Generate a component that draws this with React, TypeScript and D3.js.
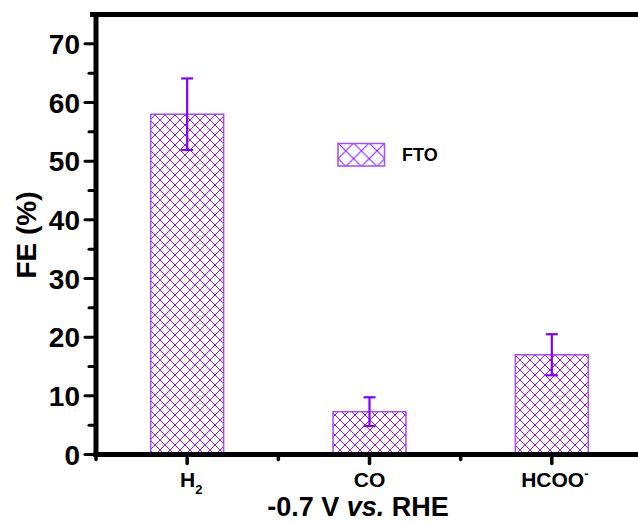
import React from "react";
import * as d3 from "d3";

const categories = ["H2", "CO", "HCOO-"];
const feValues = [58.0, 7.3, 17.0];
const feErrors = [6.1, 2.45, 3.5];
const yMajorTicks = [0, 10, 20, 30, 40, 50, 60, 70];
const yMinorTicks = [5, 15, 25, 35, 45, 55, 65];
const legendLabel = "FTO";

const W = 638;
const H = 523;
const FONT = "'Liberation Sans', Arial, sans-serif";
const PURPLE = "#8000FF";
const HATCH = "#8E1CFF";
const EDGE = "#A24BFF";

export default function App() {
  const left = 96;
  const right = 643;
  const top = 14.5;
  const bottom = 454.5;
  const x = d3
    .scaleBand<string>()
    .domain(categories)
    .range([left, right])
    .paddingInner(0.6)
    .paddingOuter(0.3);
  const y = d3.scaleLinear().domain([0, 75]).range([bottom, top]);
  const step = x.step();
  const bw = x.bandwidth();
  const cx = (c: string) => (x(c) as number) + bw / 2;
  const minorX = d3.range(categories.length + 1).map((i) => left + i * step);

  return (
    <svg
      width={W}
      height={H}
      style={{ position: "absolute", left: 0, top: 0, display: "block", background: "#fff" }}
    >
      <defs>
        <pattern id="hatch" patternUnits="userSpaceOnUse" width={10} height={10}>
          <path d="M0,0 L10,10 M10,0 L0,10 M-1,9 L1,11 M9,-1 L11,1 M-1,1 L1,-1 M9,11 L11,9" stroke={HATCH} strokeWidth={1} />
        </pattern>
        <pattern id="hatchL" patternUnits="userSpaceOnUse" x={338} y={143} width={15.6} height={15.6}>
          <path d="M0,0 L15.6,15.6 M15.6,0 L0,15.6" stroke={HATCH} strokeWidth={1.1} />
        </pattern>
      </defs>

      {/* bars */}
      {categories.map((c, i) => (
        <rect
          key={c}
          x={x(c)}
          y={y(feValues[i])}
          width={bw}
          height={y(0) - y(feValues[i])}
          fill="url(#hatch)"
          stroke={EDGE}
          strokeWidth={1.5}
        />
      ))}

      {/* error bars */}
      {categories.map((c, i) => {
        const xc = cx(c);
        const yt = y(feValues[i] + feErrors[i]);
        const yb = y(feValues[i] - feErrors[i]);
        return (
          <g key={"e" + c} stroke={PURPLE} strokeWidth={2.2}>
            <line x1={xc} x2={xc} y1={yt} y2={yb} />
            <line x1={xc - 6} x2={xc + 6} y1={yt} y2={yt} />
            <line x1={xc - 6} x2={xc + 6} y1={yb} y2={yb} />
          </g>
        );
      })}

      {/* frame */}
      <line x1={90} x2={W + 10} y1={y(75)} y2={y(75)} stroke="#000" strokeWidth={5} />
      <line x1={left} x2={left} y1={y(75) - 2} y2={bottom + 2.5} stroke="#000" strokeWidth={5} />
      <line x1={left - 2.5} x2={W + 10} y1={bottom} y2={bottom} stroke="#000" strokeWidth={5} />

      {/* y ticks */}
      {yMajorTicks.map((t) => (
        <g key={"ym" + t}>
          <line x1={left - 11} x2={left} y1={y(t)} y2={y(t)} stroke="#000" strokeWidth={3} strokeLinecap="round" />
          <text
            x={80}
            y={y(t) + 10}
            textAnchor="end"
            fontFamily={FONT}
            fontWeight="bold"
            fontSize={28}
            fill="#000"
          >
            {t}
          </text>
        </g>
      ))}
      {yMinorTicks.map((t) => (
        <line key={"yn" + t} x1={left - 7} x2={left} y1={y(t)} y2={y(t)} stroke="#000" strokeWidth={3} strokeLinecap="round" />
      ))}

      {/* x ticks */}
      {categories.map((c) => (
        <line key={"xt" + c} x1={cx(c)} x2={cx(c)} y1={bottom} y2={bottom + 9} stroke="#000" strokeWidth={3.5} strokeLinecap="round" />
      ))}
      {minorX.map((v, i) => (
        <line key={"xn" + i} x1={v} x2={v} y1={bottom} y2={bottom + 5} stroke="#000" strokeWidth={3.5} strokeLinecap="round" />
      ))}

      {/* x category labels */}
      <text x={cx(categories[0]) + 4} y={487} textAnchor="middle" fontFamily={FONT} fontWeight="bold" fontSize={21} fill="#000">
        H<tspan fontSize={13} dy={7}>2</tspan>
      </text>
      <text x={cx(categories[1])} y={487} textAnchor="middle" fontFamily={FONT} fontWeight="bold" fontSize={21} fill="#000">
        CO
      </text>
      <text x={cx(categories[2]) + 3} y={487} textAnchor="middle" fontFamily={FONT} fontWeight="bold" fontSize={21} fill="#000">
        HCOO<tspan fontSize={13} dy={-9}>-</tspan>
      </text>

      {/* axis titles */}
      <text x={358} y={516} textAnchor="middle" fontFamily={FONT} fontWeight="bold" fontSize={27} fill="#000">
        -0.7 V <tspan fontStyle="italic">vs.</tspan> RHE
      </text>
      <text
        transform="translate(36,235) rotate(-90)"
        textAnchor="middle"
        fontFamily={FONT}
        fontWeight="bold"
        fontSize={28}
        fill="#000"
      >
        FE (%)
      </text>

      {/* legend */}
      <rect x={338} y={143.5} width={46.5} height={22.5} fill="url(#hatchL)" stroke={EDGE} strokeWidth={1.5} />
      <text x={402} y={161} fontFamily={FONT} fontWeight="bold" fontSize={18} fill="#000">
        {legendLabel}
      </text>
    </svg>
  );
}
